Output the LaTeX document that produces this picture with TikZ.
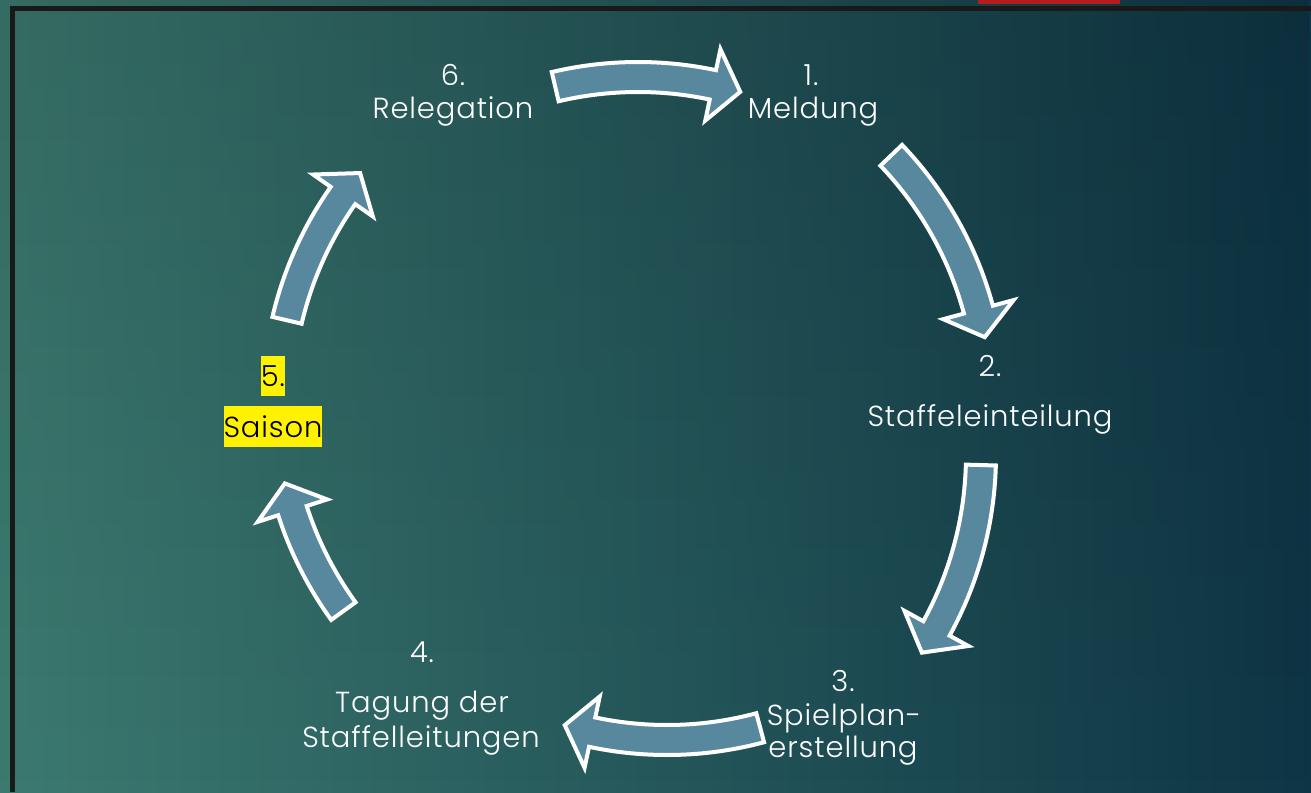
\documentclass[tikz,border=0pt]{standalone}
\usepackage{fontspec}
\setmainfont{Poppins}[UprightFont=* Light, LetterSpace=3]
\usetikzlibrary{fadings}
\definecolor{bgleft}{HTML}{3C7A70}
\definecolor{bgmid}{HTML}{27605F}
\definecolor{bgright}{HTML}{0E3545}
\definecolor{arrowblue}{HTML}{58889E}
\definecolor{barred}{HTML}{B71C1C}
\tikzset{step num/.style={anchor=base, text=white, inner sep=0pt,
           font=\fontsize{29}{35}\selectfont},
         step text/.style={step num},
         marked/.style={fill=yellow, text=black, inner xsep=0pt, inner ysep=9.5pt},
         cycle arrow/.style={fill=arrowblue, draw=white, line width=4pt}
}
\def\CycleArrow#1#2#3#4{%
 \pgfmathsetmacro\headbase{#4-4.5}
 \begin{scope}[shift={(#1,#2)}]
   \filldraw[cycle arrow] (#3:375) arc[start angle=#3, end angle=\headbase, radius=375]
     -- (\headbase:396.5) -- (#4:360) -- (\headbase:323.5) -- (\headbase:345)
     arc[start angle=\headbase, end angle=#3, radius=345] -- cycle;
 \end{scope}
}
\begin{document}
\begin{tikzpicture}[x=1pt, y=-1pt]
\useasboundingbox (0,0) rectangle (1311,792);
\shade[left color=bgleft, middle color=bgmid, right color=bgright] (0,0) rectangle (1311,792);
\fill[black, opacity=0.12, path fading=south] (0,0) rectangle (1311,792);
\fill[black!90] (10,6) rectangle (1311,11);
\fill[black!90] (10,6) rectangle (15,792);
\fill[barred] (978,0) rectangle (1120,4);

\CycleArrow{638}{437}{-103.3}{-73.5}
\CycleArrow{631}{404}{-43.7}{-10.7}
\CycleArrow{621}{455}{1.6}{33.3}
\CycleArrow{667}{380}{75}{106.5}
\CycleArrow{635}{400}{144.1}{166.6}
\CycleArrow{637.5}{402.5}{193.2}{219.6}

\node[step num] (n1) at (811,85) {1.};
\node[step text] (t1) at (813,118) {Meldung};
\node[step num] (n2) at (990,376) {2.};
\node[step text] (t2) at (990,426) {Staffeleinteilung};
\node[step num] (n3) at (843,691) {3.};
\node[step text] (t3) at (844,725) {Spielplan-};
\node[step text] (t3b) at (843,757) {erstellung};
\node[step num] (n4) at (422,662) {4.};
\node[step text] (t4) at (422,712) {Tagung der};
\node[step text] (t4b) at (421,747) {Staffelleitungen};
\node[step num, marked] (n5) at (273,386) {5.};
\node[step text, marked] (t5) at (273,437) {Saison};
\node[step num] (n6) at (453,85) {6.};
\node[step text] (t6) at (453,118) {Relegation};
\end{tikzpicture}
\end{document}
